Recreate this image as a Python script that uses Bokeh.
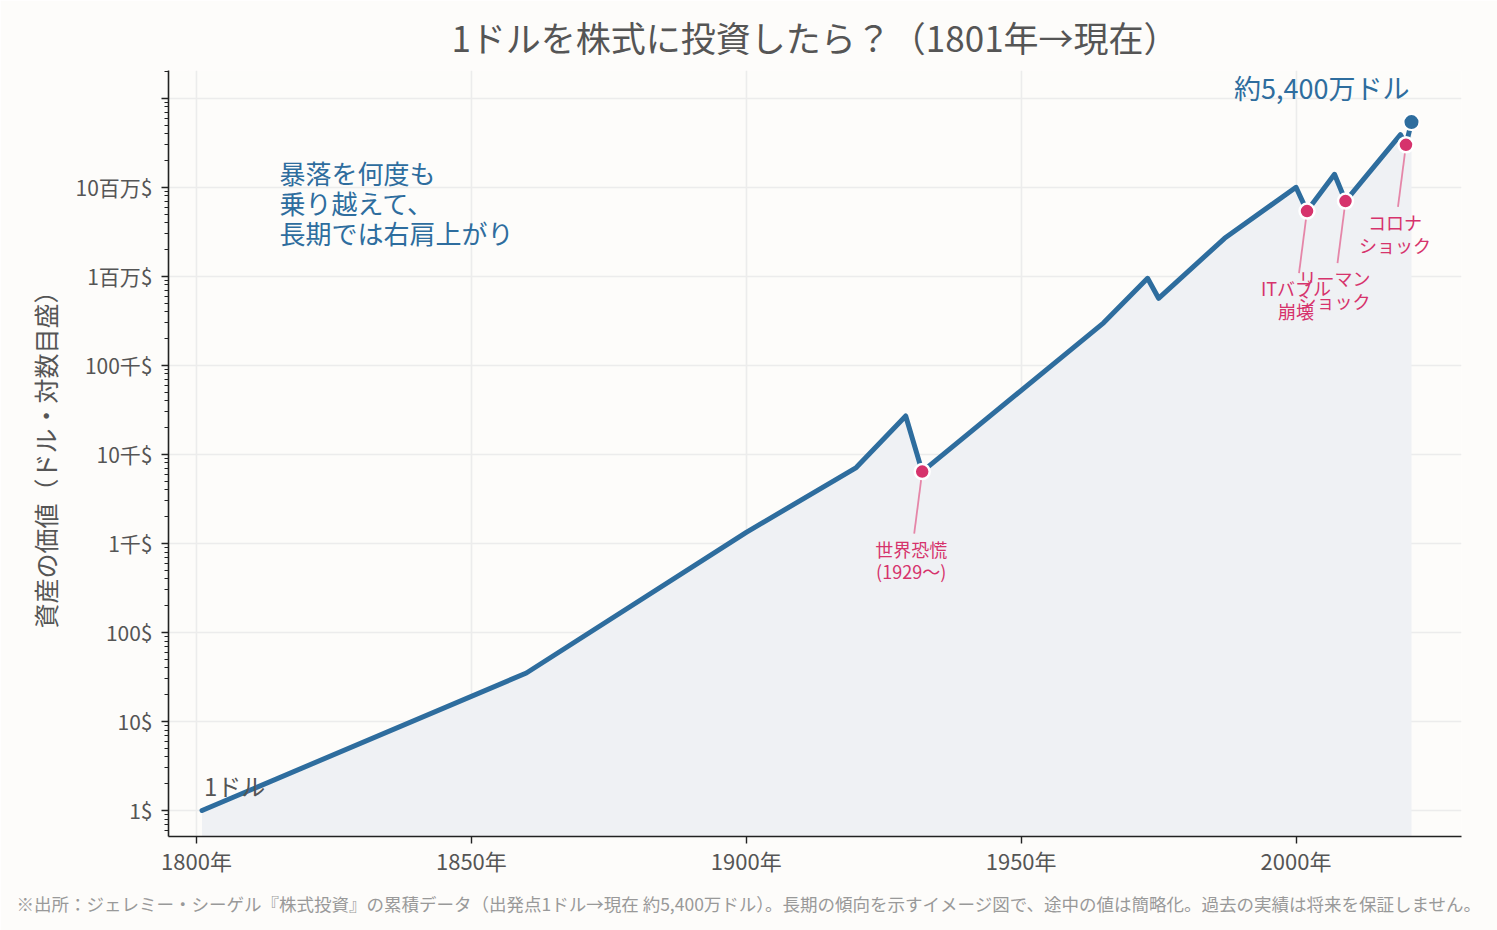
from bokeh.plotting import figure
from bokeh.models import (Range1d, Label, Title, CustomJSTickFormatter,
                          SingleIntervalTicker, LogTicker, ColumnDataSource)
from bokeh.embed import file_html
from bokeh.resources import INLINE

# ---------------- data ----------------
years = [1801, 1860, 1900, 1920, 1929, 1932, 1965, 1973, 1975,
         1987, 2000, 2002, 2007, 2009, 2019, 2020, 2021]
values = [1, 35, 1330, 7100, 27000, 6400, 300000, 950000, 566000,
          2670000, 10000000, 5400000, 14000000, 7000000, 39000000, 30000000, 54000000]

crash_years = [1932, 2002, 2009, 2020]
crash_labels = ["世界恐慌\n(1929〜)", "ITバブル\n崩壊", "リーマン\nショック", "コロナ\nショック"]

y_tick_labels = ["1$", "10$", "100$", "1千$", "10千$", "100千$", "1百万$", "10百万$", ""]
x_ticks_interval = 50

title_text = "1ドルを株式に投資したら？（1801年→現在）"
y_axis_label = "資産の価値（ドル・対数目盛）"
start_label = "1ドル"
end_label = "約5,400万ドル"
message = "暴落を何度も\n乗り越えて、\n長期では右肩上がり"
footnote = ("※出所：ジェレミー・シーゲル『株式投資』の累積データ（出発点1ドル→現在 約5,400万ドル）。"
            "長期の傾向を示すイメージ図で、途中の値は簡略化。過去の実績は将来を保証しません。")

# ---------------- style ----------------
FONT = "Noto Sans CJK JP"
BG = "#fdfcfa"
BLUE = "#2e6d9e"
PINK = "#d6336c"
LEADER = "#e586a8"
TXT = "#555555"

PX_PER_YEAR = 5.5
PX_PER_DECADE = 89.0
X_RANGE = (1794.9, 2030.1)
Y_RANGE = (0.51, 2.05e8)

p = figure(width=1497, height=930, y_axis_type="log",
           x_range=Range1d(*X_RANGE), y_range=Range1d(*Y_RANGE),
           output_backend="svg", toolbar_location=None,
           min_border_left=168, min_border_right=36,
           min_border_top=70, min_border_bottom=94)

p.background_fill_color = BG
p.border_fill_color = BG
p.outline_line_color = None

p.title.text = title_text
p.title.align = "center"
p.title.offset = -8
p.title.vertical_align = "top"
p.title.text_font = FONT
p.title.text_font_size = "35px"
p.title.text_font_style = "normal"
p.title.text_color = TXT
p.title.standoff = 14

# axes
p.xaxis.ticker = SingleIntervalTicker(interval=x_ticks_interval, num_minor_ticks=0)
p.xgrid.ticker = p.xaxis.ticker
p.xaxis.formatter = CustomJSTickFormatter(code="return tick.toFixed(0) + '年'")
p.yaxis.ticker = LogTicker(num_minor_ticks=10)
p.yaxis.formatter = CustomJSTickFormatter(args=dict(labels=y_tick_labels), code="""
    const i = Math.round(Math.log10(tick));
    return (i >= 0 && i < labels.length) ? labels[i] : '';
""")
for ax in (p.xaxis, p.yaxis):
    ax.axis_line_color = "#222222"
    ax.axis_line_width = 1.6
    ax.major_tick_line_color = "#222222"
    ax.major_tick_line_width = 1.4
    ax.major_tick_in = 0
    ax.major_tick_out = 7
    ax.minor_tick_in = 0
    ax.minor_tick_out = 4
    ax.minor_tick_line_color = "#222222"
    ax.major_label_text_font = FONT
    ax.major_label_text_color = TXT
p.xaxis.major_label_text_font_size = "22px"
p.yaxis.major_label_text_font_size = "21px"
p.xaxis.major_label_standoff = 0
p.yaxis.major_label_standoff = 9
p.xaxis.minor_tick_line_color = None
p.yaxis.axis_label = y_axis_label
p.yaxis.axis_label_text_font = FONT
p.yaxis.axis_label_text_font_size = "25px"
p.yaxis.axis_label_text_font_style = "normal"
p.yaxis.axis_label_text_color = TXT
p.yaxis.axis_label_standoff = 10

p.grid.grid_line_color = "#ececec"
p.grid.grid_line_width = 1.6
p.ygrid.minor_grid_line_color = None

# area + line
src = ColumnDataSource(dict(x=years, y=values, base=[0.3] * len(years)))
p.varea(x="x", y1="base", y2="y", source=src, fill_color="#eff1f4", fill_alpha=1.0)
p.line(x="x", y="y", source=src, line_color=BLUE, line_width=5,
       line_join="round", line_cap="round")

# crash markers
lookup = dict(zip(years, values))
crash_values = [lookup[yv] for yv in crash_years]
lead_x1 = [yv - 8 / PX_PER_YEAR for yv in crash_years]
lead_y1 = [v * 10 ** (-62 / PX_PER_DECADE) for v in crash_values]
p.segment(x0=crash_years, y0=crash_values, x1=lead_x1, y1=lead_y1,
          line_color=LEADER, line_width=1.8)
p.scatter(x=crash_years, y=crash_values, size=15, fill_color=PINK,
          line_color="white", line_width=2.5)

for yv, v, txt in zip(crash_years, crash_values, crash_labels):
    p.add_layout(Label(x=yv, y=v, x_offset=-11, y_offset=-64, text=txt,
                       text_align="center", text_baseline="top",
                       text_font=FONT, text_font_size="18px",
                       text_color=PINK, text_line_height=0.88))

# end marker
p.scatter(x=[years[-1]], y=[values[-1]], size=16, fill_color=BLUE,
          line_color="white", line_width=2)
p.add_layout(Label(x=years[-1], y=values[-1], x_offset=-2, y_offset=35,
                   text=end_label, text_align="right", text_baseline="middle",
                   text_font=FONT, text_font_size="27px", text_color=BLUE))

# start label
p.add_layout(Label(x=years[0], y=values[0], x_offset=2, y_offset=25,
                   text=start_label, text_align="left", text_baseline="middle",
                   text_font=FONT, text_font_size="24px", text_color=TXT))

# message
p.add_layout(Label(x=1815.1, y=10 ** 7.37, text=message,
                   text_align="left", text_baseline="top",
                   text_font=FONT, text_font_size="26px", text_color=BLUE,
                   text_line_height=0.8))

# footnote
p.add_layout(Title(text=footnote, align="left", offset=-152, standoff=20,
                   text_font=FONT, text_font_size="17.5px", text_font_style="normal",
                   text_color="#999999"), "below")

open("out.html", "w").write(file_html(p, INLINE))
